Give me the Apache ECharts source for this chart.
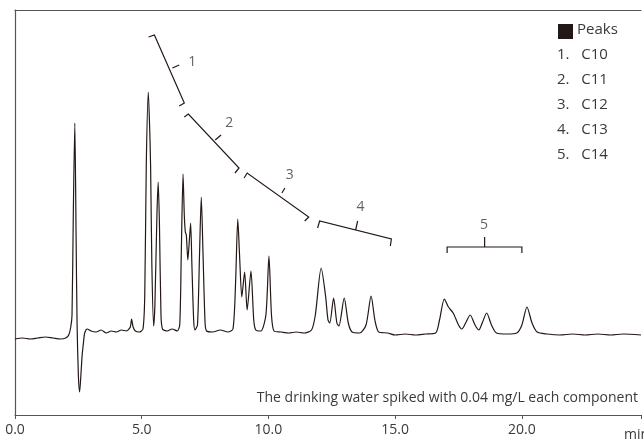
<!DOCTYPE html>
<html>
<head>
<meta charset="utf-8">
<script src="https://cdn.jsdelivr.net/npm/echarts@6/dist/echarts.min.js"></script>
<style>
html, body { margin: 0; padding: 0; background: #fff; }
#chart { width: 644px; height: 443px; }
</style>
</head>
<body>
<div id="chart"></div>
<script>
// chromatogram trace: [time (min), signal]
var trace = [
    [0, 76], [0.3, 77], [0.6, 76], [0.9, 77], [1.2, 78], [1.5, 77], [1.8, 76], [2.0, 77], [2.12, 80], [2.2, 88],
    [2.25, 100], [2.3, 200], [2.36, 292], [2.41, 180], [2.45, 90], [2.5, 40], [2.55, 23], [2.6, 40], [2.65, 60],
    [2.7, 72], [2.75, 82], [2.85, 86], [3.0, 84], [3.2, 83], [3.4, 85], [3.6, 82], [3.8, 84], [4.0, 83], [4.2, 85],
    [4.4, 84], [4.55, 88], [4.6, 96], [4.66, 88], [4.75, 84], [4.9, 83], [5.05, 86], [5.12, 120], [5.18, 250],
    [5.26, 323], [5.31, 290], [5.35, 250], [5.4, 150], [5.47, 89], [5.52, 110], [5.6, 200], [5.65, 233], [5.7, 190],
    [5.76, 100], [5.82, 86], [6.0, 84], [6.2, 86], [6.4, 84], [6.5, 90], [6.56, 160], [6.63, 241], [6.68, 200],
    [6.72, 183], [6.76, 180], [6.82, 155], [6.88, 175], [6.93, 192], [6.98, 150], [7.05, 95], [7.1, 85], [7.2, 90],
    [7.28, 160], [7.35, 218], [7.42, 160], [7.5, 92], [7.56, 84], [7.8, 83], [8.1, 85], [8.4, 83], [8.6, 86],
    [8.7, 130], [8.79, 196], [8.86, 160], [8.95, 118], [9.06, 143], [9.16, 105], [9.31, 144], [9.42, 95], [9.5, 85],
    [9.7, 84], [9.9, 100], [10.02, 159], [10.12, 100], [10.22, 84], [10.5, 83], [10.8, 82], [11.1, 83], [11.4, 82],
    [11.7, 85], [11.85, 100], [12.08, 147], [12.25, 120], [12.35, 95], [12.42, 92], [12.57, 117], [12.7, 92],
    [12.78, 89], [12.99, 117], [13.15, 92], [13.3, 83], [13.6, 82], [13.85, 90], [14.05, 119], [14.2, 95],
    [14.35, 83], [14.7, 82], [15.0, 80], [15.4, 81], [15.8, 80], [16.2, 81], [16.6, 82], [16.75, 95], [16.94, 116],
    [17.1, 108], [17.29, 102], [17.5, 90], [17.63, 86], [17.8, 93], [17.96, 100], [18.15, 90], [18.3, 85],
    [18.45, 93], [18.61, 102], [18.8, 90], [19.0, 82], [19.4, 81], [19.8, 82], [20.0, 90], [20.2, 108], [20.4, 92],
    [20.6, 83], [21, 81], [21.5, 80], [22, 81], [22.5, 80], [23, 81], [23.5, 80], [24, 81], [24.7, 80]
];

// group brackets: polyline, middle tick, label position
var bracketLines = [
    [[5.27, 378], [5.50, 380], [6.68, 312], [6.48, 309]],
    [[6.68, 298], [6.84, 301], [8.84, 247], [8.68, 242]],
    [[9.04, 237], [9.16, 242], [11.59, 198], [11.43, 194]],
    [[11.94, 187], [12.02, 194], [14.85, 176], [14.81, 169]],
    [[17.05, 162], [17.05, 168], [20.0, 168], [20.0, 162]]
];
var bracketTicks = [
    [[6.21, 347], [6.48, 350]],
    [[7.90, 275], [8.13, 280]],
    [[10.53, 222], [10.65, 227]],
    [[13.44, 185], [13.52, 194]],
    [[18.53, 168], [18.53, 178]]
];
var bracketLabels = [[6.99, 353, '1'], [8.45, 292, '2'], [10.84, 240, '3'], [13.63, 208, '4'], [18.51, 190, '5']];

var peakNames = ['1.   C10', '2.   C11', '3.   C12', '4.   C13', '5.   C14'];
var xTicks = [0, 5, 10, 15, 20];

var inkColor = '#231815';
var textColor = '#3a3a3a';
var fontName = 'Open Sans';

var chart = echarts.init(document.getElementById('chart'));

var lineData = [];
for (var i = 0; i < bracketLines.length; i++) {
    lineData.push({ coords: bracketLines[i] });
    lineData.push({ coords: bracketTicks[i] });
}

var legendGraphics = [{
    type: 'rect', left: 558, top: 24, shape: { width: 15, height: 15 }, style: { fill: inkColor }
}, {
    type: 'text', left: 577, top: 22, style: { text: 'Peaks', fill: textColor, font: '15px "Open Sans"' }
}];
for (var j = 0; j < peakNames.length; j++) {
    legendGraphics.push({
        type: 'text', left: 557, top: 47 + j * 25,
        style: { text: peakNames[j], fill: textColor, font: '15px "Open Sans"' }
    });
}
legendGraphics.push({
    type: 'text', right: 6, top: 391,
    style: { text: 'The drinking water spiked with 0.04 mg/L each component', fill: textColor, font: '14px "Open Sans"' }
});
legendGraphics.push({
    type: 'text', left: 624, top: 428,
    style: { text: 'min', fill: textColor, font: '14px "Open Sans"' }
});

var option = {
    animation: false,
    backgroundColor: '#fff',
    grid: { left: 15, right: 0, top: 10, bottom: 28 },
    xAxis: [{
        type: 'value', min: 0, max: 24.7, interval: 5,
        axisLine: { lineStyle: { color: '#555', width: 1.2 } },
        axisTick: { length: 4, inside: false, lineStyle: { color: '#555' } },
        axisLabel: {
            color: textColor, fontFamily: fontName, fontSize: 14, margin: 8,
            formatter: function (v) { return xTicks.indexOf(v) >= 0 ? v.toFixed(1) : ''; }
        },
        splitLine: { show: false }
    }, {
        type: 'value', min: 0, max: 24.7, position: 'top',
        axisLine: { lineStyle: { color: '#555', width: 1.2 } },
        axisTick: { show: false }, axisLabel: { show: false }, splitLine: { show: false }
    }],
    yAxis: {
        type: 'value', min: 0, max: 405,
        axisLine: { show: true, lineStyle: { color: '#555', width: 1.2 } },
        axisTick: { show: false }, axisLabel: { show: false }, splitLine: { show: false }
    },
    series: [{
        type: 'line',
        data: trace,
        showSymbol: false,
        smooth: 0.25,
        lineStyle: { color: inkColor, width: 1.2 }
    }, {
        type: 'lines',
        coordinateSystem: 'cartesian2d',
        polyline: true,
        data: lineData,
        lineStyle: { color: inkColor, width: 1.2, opacity: 1 }
    }, {
        type: 'scatter',
        symbolSize: 0,
        data: bracketLabels,
        label: {
            show: true, position: 'inside', color: textColor, fontFamily: fontName, fontSize: 14,
            formatter: function (p) { return p.data[2]; }
        }
    }],
    graphic: legendGraphics
};
chart.setOption(option);
</script>
</body>
</html>
